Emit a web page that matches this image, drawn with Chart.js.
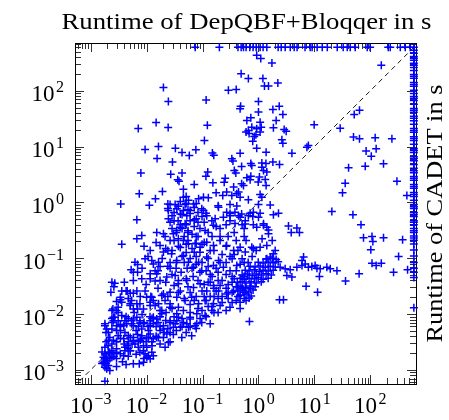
<!DOCTYPE html>
<html>
<head>
<meta charset="utf-8">
<script src="https://cdn.jsdelivr.net/npm/chart.js@4.4.1/dist/chart.umd.min.js"></script>
<style>
  html, body { margin: 0; padding: 0; background: #fff; }
  #wrap { width: 449px; height: 420px; }
</style>
</head>
<body>
<div id="wrap"><canvas id="chart" width="449" height="420"></canvas></div>
<script>
// Runtimes in seconds; TIMEOUT marks an instance the solver did not finish.
const TIMEOUT = 600;

const xTitle = 'Runtime of DepQBF+Bloqqer in s';
const yTitle = 'Runtime of CADET in s';

// decade exponents that get a "10^k" label
const tickExponents = [-3, -2, -1, 0, 1, 2];

// axis limits (s)
const X_MIN = 5.25e-4, X_MAX = 655;
const Y_MIN = 5.6e-4,  Y_MAX = 716;

// CADET timed out: DepQBF+Bloqqer runtime
const cadetTimeouts = [0.074,0.20,0.43,0.49,0.54,0.60,0.70,0.80,0.91,1.07,1.21,1.41,2.25,2.55,3.0,3.7,4.35,4.9,
  6.8,8.4,9.1,11.2,13.8,17,25.6,32.7,38.6,43.7,53.7,88,99,209,227,343,421,517,600];

// DepQBF+Bloqqer timed out: CADET runtime
const depqbfTimeouts = [530,470,410,380,350,310,285,260,230,196,181,167,141,130,120,102,89,79,73,67,57,48,44.5,41,
  35,32,29,25,21,19.5,18,15,14,12.9,11,9.2,8.5,7.8,6.6,6.1,5.6,4.8,4.1,3.7,3.4,2.9,2.7,2.5,2.1,1.93,1.8,1.5,1.39,
  1.28,1.09,0.92,0.84,0.78,0.66,0.61,0.56,0.47,0.44,0.40,0.34,0.31,0.29,0.25,0.23,0.21,0.18,0.14,0.11,0.084,0.066,
  0.056,0.045,0.013];

// solved by both: [DepQBF+Bloqqer, CADET]
const slowForCadet = [
  [0.020,114],[0.0245,64],[0.116,68],[0.0071,21],[0.0148,27],[0.0243,22],[0.122,24],[0.0094,8.9],[0.0163,10],
  [0.0154,6.1],[0.0327,9.3],[0.043,7.8],[0.058,6.9],[0.076,8.8],[0.108,12.9],[0.15,7.7],[0.159,7.0],[0.029,5.3],
  [0.0079,3.35],[0.027,3.2],[0.043,3.35],[0.036,2.55],[0.038,2.4],[0.115,2.95],[0.124,3.5],[0.153,2.25],
  [0.0455,1.73],[0.071,2.1],[0.0074,1.43],[0.0192,1.57],[0.0144,1.16],[0.0112,0.89],[0.00345,0.94],[0.0067,0.49],
  [0.024,0.94],[0.051,1.28],[0.069,0.94],[0.104,0.72],[0.115,0.64],[0.175,1.49],[0.23,1.33],[0.19,0.87],
  [0.254,2.72],[0.244,2.3],[0.334,6.05],[0.35,5.5],[0.37,3.74],[0.394,3.35],[0.5,4.4],[0.47,7.6],[0.29,102],
  [0.40,105],[0.49,202],[0.66,165],[0.47,47.7],[0.48,52.5],[0.62,29.4],[0.68,17.2],[0.36,1.88],[0.41,1.43],
  [0.44,1.53],[0.5,2.16],[0.31,0.63],[0.38,0.67],[0.44,0.58],[0.236,0.54],
  [0.93,430],[1.1,376],[1.74,313],[1.2,165],[1.28,121],[1.51,121],[2.22,137],[1.0,64],[1.0,41.5],[1.81,46],
  [2.35,53],[2.73,37.7],[0.73,32.9],[1.07,27.4],[2.07,29.4],[0.76,22.3],[0.93,20.9],[1.12,22.3],[1.07,18.2],
  [0.6,18.2],[0.66,19.5],[1.85,21.8],[2.88,20.3],[3.13,18.9],[0.9,16.3],[0.84,15.2],[0.79,12.5],[2.62,13.3],
  [2.73,11.5],[0.93,9.35],[1.37,7.9],[3.96,7.6],[0.73,5.0],[1.15,5.1],[1.36,5.0],[1.81,5.3],[2.38,4.78],
  [0.76,4.59],[1.15,4.28],[1.23,3.74],[1.41,3.49],[0.62,2.77],[0.71,2.55],[0.73,2.95],[1.04,2.84],[1.32,2.58],
  [1.37,2.01],[0.99,2.31],[0.54,2.01],[1.07,1.39],[1.15,1.24],[0.334,1.33],[0.66,1.12],[0.31,0.92],[0.41,0.86],
  [1.0,0.92],[1.62,0.90],[0.5,0.62],[0.71,0.64],[0.79,0.56],[1.07,0.64],[1.85,0.6],[2.28,0.64]
];

const slowForDepqbf = [
  [157,285],[9.9,24.7],[28.9,21.4],[51.5,37.7],[64,44.5],[7.8,10.5],[7.35,9.7],[50,14.8],[64,13.8],[122,14.4],
  [243,13.8],[127,9.1],[84,8.3],[104,6.7],[172,4.93],[81,4.45],[40.8,4.18],[299,2.4],[35.5,2.21],[31.8,1.49],
  [450,1.33],[20.5,0.69],[48.8,0.6],[68,0.40],
  [0.38,0.42],[0.58,0.41],[0.81,0.40],[0.93,0.36],[1.23,0.39],[3.44,0.38],[4.86,0.35],[1.51,0.32],[3.85,0.29],
  [5.4,0.29],[75.5,0.233],[107,0.245],[172,0.233],[111,0.20],[377,0.214],[102,0.142],[320,0.108],[107,0.081],
  [127,0.074],[157,0.081],[463,0.062],[260,0.056],[63,0.053],[36,0.039],[7.1,0.0315],[11.4,0.0247],[2.38,0.018],
  [2.8,0.018],[0.69,0.0074],[2.44,0.069],[3.0,0.065],[3.69,0.062],[4.86,0.069],[6.0,0.074],[6.85,0.079],
  [7.8,0.069],[9.0,0.071],[10.3,0.074],[11.1,0.066],[12.7,0.065],[12.3,0.047],[16.7,0.069],[19.2,0.065],
  [25.3,0.060],[3.22,0.049],[3.96,0.046],[6.0,0.091],[6.4,0.105],[1.41,0.098],[1.62,0.105]
];

const coreMass = [
  [0.0324,0.92],[0.0455,1.24],[0.0488,0.92],[0.056,1.09],[0.085,1.16],[0.104,1.24],[0.127,1.21],[0.27,1.53],
  [0.47,1.24],[0.0245,0.72],[0.0245,0.51],[0.0347,0.77],[0.040,0.62],[0.0455,0.72],[0.0524,0.58],[0.060,0.47],
  [0.0488,0.415],[0.040,0.36],[0.0347,0.315],[0.097,0.77],[0.119,0.58],[0.147,0.47],[0.157,0.39],[0.168,0.51],
  [0.193,0.82],[0.27,0.67],[0.31,0.58],[0.47,0.54],[0.58,0.47],[0.66,0.58],[0.81,0.67],[1.0,0.54],[1.23,0.415],
  [1.41,0.36],[1.51,0.275],[0.0152,0.29],[0.020,0.275],[0.0082,0.256],[0.0067,0.223],[0.0301,0.275],[0.037,0.223],
  [0.0455,0.208],[0.056,0.182],[0.0737,0.182],[0.0905,0.158],[0.119,0.194],[0.157,0.170],[0.206,0.208],[0.27,0.17],
  [0.36,0.138],[0.47,0.158],[0.58,0.129],[0.81,0.148],[1.07,0.158],[1.41,0.17],[0.0116,0.138],[0.0174,0.17],
  [0.020,0.129],[0.0124,0.091],[0.0094,0.0975],[0.0062,0.085],[0.028,0.120],[0.0347,0.091],[0.0455,0.112],
  [0.056,0.085],[0.069,0.069],[0.085,0.085],[0.097,0.060],[0.119,0.105],[0.157,0.074],[0.193,0.091],[0.236,0.069],
  [0.31,0.060],[0.41,0.074],[0.0058,0.056],[0.0082,0.043],[0.0116,0.053],[0.0174,0.040],[0.023,0.046],
  [0.0324,0.049],[0.037,0.035],[0.0524,0.040],[0.069,0.030],[0.0905,0.035],[0.119,0.026],[0.157,0.0325],
  [0.193,0.026],[0.27,0.023],[0.36,0.026],[0.47,0.0215],[0.0067,0.026],[0.0124,0.020],[0.0187,0.0215],
  [0.0263,0.0247],[0.0347,0.020],[0.0488,0.0175],[0.064,0.020],[0.085,0.0153],[0.111,0.0175],[0.157,0.0153],
  [0.206,0.0143],[0.31,0.0133],[0.47,0.0163],[0.0067,0.0153],[0.0088,0.0124],[0.0142,0.0143],[0.0187,0.0116],
  [0.0263,0.0133],[0.0347,0.0101],[0.0455,0.0116],[0.060,0.0088],[0.079,0.0101],[0.111,0.0094],[0.147,0.0116],
  [0.0058,0.0082],[0.0088,0.0067],[0.0108,0.0051],[0.0132,0.0067],[0.020,0.0062],[0.0263,0.0071],[0.040,0.0058],
  [0.0524,0.0067],[0.0737,0.0062],[0.097,0.0071],[0.137,0.0067],[0.0108,0.0038],[0.0152,0.0038],[0.020,0.0038],
  [0.0301,0.0043],[0.0426,0.0038],
  [0.0285,0.58],[0.0366,0.47],[0.043,0.34],[0.055,0.29],[0.071,0.37],[0.083,0.245],[0.031,0.208],[0.040,0.156],
  [0.051,0.127],[0.065,0.150],[0.077,0.108],[0.0263,0.084],[0.0337,0.066],[0.0414,0.056],[0.053,0.066],
  [0.068,0.047],[0.083,0.040],[0.031,0.0325],[0.040,0.026],[0.060,0.0243],[0.077,0.0207],[0.098,0.026],
  [0.126,0.037],[0.148,0.047],[0.19,0.056],[0.224,0.040],[0.287,0.0338],[0.368,0.043],[0.116,0.0175],
  [0.161,0.0207],[0.224,0.0162],[0.287,0.019],[0.40,0.0175],[0.047,0.245],[0.060,0.72],[0.077,0.51],
  [0.0174,0.0090],[0.0223,0.0107],[0.0285,0.0126],[0.047,0.019],[0.060,0.0148],[0.098,0.0116],[0.126,0.0137],
  [0.264,0.029],[0.338,0.0243],[0.43,0.031],[0.264,0.0116],[0.19,0.0107],[0.0905,0.0083],[0.0148,0.0060],
  [0.175,0.026],[0.137,0.0207],[0.555,0.0243],[0.206,0.0325],
  [0.111,0.315],[0.148,0.245],[0.206,0.34],[0.287,0.245],[0.40,0.208],[0.555,0.245],[0.137,0.138],[0.224,0.117],
  [0.338,0.098],[0.51,0.098],[0.655,0.084],[0.77,0.108],[0.91,0.138],[0.264,0.40],[0.555,0.34],[1.76,0.208],
  [1.16,0.223],[1.99,0.138],[0.76,0.158],[1.85,0.12]
];

// further instances inside the crowded 0.01 s – 1 s block
const midRange = [
  [0.0263,0.92],[0.037,0.85],[0.051,0.96],[0.071,0.81],[0.031,0.66],[0.043,0.61],[0.060,0.63],[0.083,0.66],
  [0.0263,0.44],[0.051,0.40],[0.071,0.49],[0.034,0.29],[0.065,0.27],[0.09,0.34],[0.0263,0.208],[0.055,0.208],
  [0.077,0.185],[0.0285,0.138],[0.043,0.108],[0.060,0.099],[0.09,0.128],[0.034,0.084],[0.077,0.078],
  [0.0285,0.051],[0.051,0.043],[0.09,0.056],[0.037,0.0243],[0.055,0.031],[0.071,0.0175],[0.024,0.0207],
  [0.107,0.44],[0.175,0.37],[0.31,0.47],[0.51,0.40],[0.126,0.29],[0.206,0.245],[0.368,0.29],[0.60,0.208],
  [0.107,0.192],[0.16,0.138],[0.264,0.164],[0.43,0.138],[0.126,0.099],[0.206,0.084],[0.31,0.108],[0.47,0.078],
  [0.116,0.060],[0.175,0.066],[0.264,0.051],[0.40,0.060],[0.137,0.037],[0.338,0.037],[0.51,0.029],[0.107,0.0207],
  [0.19,0.019],[0.338,0.0162],[0.47,0.0126],[0.148,0.0137],
  [0.009,0.164],[0.0148,0.192],[0.022,0.15],[0.0106,0.108],[0.019,0.099],[0.0083,0.066],[0.016,0.060],
  [0.024,0.072],[0.0098,0.034],[0.016,0.029],[0.022,0.037],[0.0077,0.0207],
  [0.0026,0.031],[0.004,0.037],[0.0047,0.019],[0.0031,0.0107],[0.0043,0.009],[0.006,0.0107],[0.0083,0.0098],
  [0.0115,0.009],[0.016,0.0071],[0.022,0.0077],[0.031,0.009],[0.043,0.0083],[0.060,0.0107],[0.083,0.0126],
  [0.116,0.009],[0.16,0.0107],[0.0106,0.006],[0.0205,0.0047],[0.034,0.0051],[0.051,0.0047],[0.077,0.0055],
  [0.0034,0.0037],[0.0055,0.0029],[0.0077,0.0034],[0.0125,0.0027],[0.0019,0.0032],[0.0026,0.00175],
  [0.0037,0.0014],[0.0047,0.00175],[0.0065,0.0019],[0.009,0.0016],[0.0016,0.0013],[0.0022,0.00098],[0.0029,0.00115],
  [0.024,0.78],[0.040,1.04],[0.055,0.75],[0.077,0.96],[0.098,0.56],[0.0285,0.34],[0.040,0.40],[0.055,0.31],
  [0.077,0.245],[0.024,0.138],[0.037,0.164],[0.051,0.178],[0.071,0.128],[0.098,0.178],[0.031,0.47],[0.083,0.44],
  [0.047,0.084],[0.065,0.066],[0.0263,0.066],[0.037,0.040],
  [0.098,0.084],[0.137,0.051],[0.19,0.040],[0.264,0.084],[0.368,0.117],[0.555,0.084],[0.107,0.034],[0.16,0.029],
  [0.287,0.0243],[0.43,0.0207],[0.60,0.0175],[0.224,0.0207],[0.126,0.071],[0.338,0.047],[0.555,0.047],[0.71,0.029],
  [0.0024,0.0083],[0.0034,0.0065],[0.0047,0.0083],[0.0065,0.0051],[0.009,0.0071],[0.0125,0.0083],[0.0174,0.006],
  [0.024,0.0055],[0.043,0.006],[0.004,0.0029],[0.0051,0.0022],[0.0071,0.0032],[0.0098,0.0032],[0.0029,0.0016],
  [0.0043,0.00125],[0.00205,0.0027],[0.0016,0.0021],[0.0148,0.004],[0.0263,0.0032],[0.060,0.006]
];

const smallInstances = [
  [0.0036,0.178],[0.0214,0.245],[0.0069,0.077],[0.0053,0.062],[0.0069,0.056],[0.0132,0.079],[0.0163,0.085],
  [0.0174,0.071],[0.0142,0.060],[0.0152,0.053],[0.0116,0.043],[0.0142,0.039],[0.0024,0.0372],[0.0027,0.0357],
  [0.0058,0.040],[0.0045,0.026],[0.0023,0.0247],[0.0034,0.018],[0.0029,0.0168],[0.0025,0.0124],[0.0024,0.0116],
  [0.0031,0.0133],[0.0054,0.0175],[0.0051,0.0143],[0.0069,0.0124],[0.0076,0.0153],[0.0094,0.026],[0.010,0.020],
  [0.0116,0.0163],[0.0132,0.0175],[0.020,0.023],[0.0214,0.0175],[0.0263,0.0153],[0.00255,0.0088],[0.0024,0.0071],
  [0.0031,0.0076],[0.0036,0.0094],[0.0034,0.0060],[0.0029,0.0051],[0.0018,0.0062],[0.00194,0.0054],[0.00188,0.0047],
  [0.0044,0.0067],[0.0054,0.0076],[0.0058,0.0062],[0.0071,0.0060],[0.0076,0.0069],[0.0116,0.0062],[0.0041,0.0047],
  [0.0047,0.0041],[0.0058,0.0038],[0.0069,0.0043],[0.0082,0.0041],[0.0101,0.0038],[0.0116,0.0044],[0.00207,0.0034],
  [0.0024,0.0029],[0.0018,0.00255],[0.0022,0.00207],[0.00194,0.00169],[0.0018,0.00137],[0.00207,0.0012],
  [0.0029,0.0024],[0.0034,0.00194],[0.0041,0.00255],[0.0051,0.0022],[0.0045,0.0027],[0.0062,0.0029],
  [0.0071,0.00255],[0.0076,0.00207],[0.0088,0.0022],[0.0101,0.00255],[0.0108,0.0018],[0.0058,0.00129],
  [0.0074,0.00129],[0.0088,0.00137],[0.0101,0.00169],[0.0018,0.00063],[0.0174,0.0029],[0.0214,0.00255],
  [0.0245,0.0031],[0.023,0.0044],[0.0174,0.0051],[0.064,0.0041],[0.0263,0.0076],[0.0324,0.0067],[0.037,0.0088],
  [0.0455,0.0071],[0.056,0.0058],[0.060,0.0082],[0.079,0.0067],
  [0.0036,0.0258],[0.0043,0.0258],[0.0051,0.0237],[0.0058,0.0237],[0.0034,0.020],[0.0036,0.0163],[0.0029,0.0116],
  [0.0051,0.0153],[0.0119,0.0207],[0.0058,0.0124],[0.0116,0.0143],[0.0163,0.0153],[0.0174,0.0116],[0.0018,0.0067],
  [0.00207,0.0047],[0.0024,0.0054],[0.00255,0.0076],[0.0029,0.0062],[0.0034,0.0051],[0.0039,0.0062],[0.0041,0.0076],
  [0.0027,0.0088],[0.0054,0.0067],[0.0076,0.0076],[0.0067,0.0088],[0.0082,0.0054],[0.0116,0.0076],[0.0132,0.0088],
  [0.0152,0.0082],[0.0187,0.0101],[0.0022,0.0038],[0.00255,0.0034],[0.0029,0.0032],[0.0031,0.0041],[0.0039,0.0036],
  [0.0047,0.0032],[0.0051,0.0038],[0.0058,0.0034],[0.0082,0.0036],[0.0088,0.0027],[0.0124,0.0032],[0.0132,0.0036],
  [0.0163,0.0038],[0.020,0.0054],[0.0263,0.0047],[0.0301,0.0058],[0.0347,0.0076],[0.037,0.0133],[0.0017,0.00169],
  [0.0018,0.00194],[0.00207,0.00207],[0.0024,0.0022],[0.0018,0.00158],[0.002,0.00146],[0.0022,0.00158],
  [0.0017,0.00137],[0.00188,0.00129],[0.0018,0.00112],[0.00194,0.00105],[0.0024,0.00169],[0.00255,0.00194],
  [0.0029,0.00207],[0.0041,0.0022],[0.0047,0.0024],[0.0039,0.0018],[0.0116,0.00158],[0.0132,0.0018],
  [0.0094,0.00194],[0.0124,0.00207]
];

// dense group around 1 s / 0.05 s
const cadetPlateau = [
  [1.37,0.097],[1.76,0.1],[2.07,0.095],
  [0.99,0.085],[1.21,0.082],[1.49,0.086],[1.83,0.083],[2.25,0.087],
  [0.71,0.072],[0.87,0.07],[1.07,0.073],[1.32,0.069],[1.62,0.072],[1.99,0.07],
  [0.58,0.061],[0.68,0.059],[0.84,0.062],[1.03,0.058],[1.21,0.061],[1.49,0.059],[1.83,0.061],
  [0.51,0.05],[0.63,0.052],[0.77,0.049],[0.91,0.052],[1.12,0.05],[1.37,0.053],[1.69,0.05],
  [0.47,0.044],[0.555,0.042],[0.68,0.044],[0.84,0.043],[0.99,0.045],[1.21,0.042],[1.49,0.044],
  [0.42,0.037],[0.51,0.038],[0.6,0.036],[0.74,0.038],[0.91,0.036],[1.12,0.038],
  [0.40,0.031],[0.47,0.032],[0.58,0.030],[0.71,0.032],[0.87,0.031],
  [0.43,0.026],[0.53,0.027],[0.655,0.025],[0.80,0.027],
  [0.47,0.022],[0.60,0.023],[0.74,0.021],
  [0.555,0.019],[0.68,0.0195]
];

const toPoint = ([d, c]) => ({ x: d, y: c });
const instances = [
  ...slowForCadet, ...slowForDepqbf, ...coreMass, ...midRange, ...smallInstances, ...cadetPlateau
].map(toPoint)
  .concat(cadetTimeouts.map(d => ({ x: d, y: TIMEOUT })))
  .concat(depqbfTimeouts.map(c => ({ x: TIMEOUT, y: c })));

const SERIF = '"Liberation Serif", "Times New Roman", serif';
const LABEL_FONT = '23px ' + SERIF;
const SUP_FONT = '16px ' + SERIF;
const TITLE_FONT = '24px ' + SERIF;

// text stretched horizontally to a given width
function drawFitted(ctx, text, cx, baseline, width, font) {
  ctx.save();
  ctx.font = font;
  const w = ctx.measureText(text).width;
  ctx.translate(cx, baseline);
  ctx.scale(width / w, 1);
  ctx.textAlign = 'center';
  ctx.textBaseline = 'alphabetic';
  ctx.fillText(text, 0, 0);
  ctx.restore();
}

function drawPower(ctx, exp, x, baseline, align) {
  const base = '10';
  const sup = exp < 0 ? '\u2212' + (-exp) : String(exp);
  ctx.font = LABEL_FONT;
  const wb = ctx.measureText(base).width;
  ctx.font = SUP_FONT;
  const ws = ctx.measureText(sup).width;
  const gap = 1.5;
  const total = wb + gap + ws;
  const left = align === 'center' ? x - total / 2 : x - total;
  ctx.textAlign = 'left';
  ctx.textBaseline = 'alphabetic';
  ctx.font = LABEL_FONT;
  ctx.fillText(base, left, baseline);
  ctx.font = SUP_FONT;
  ctx.fillText(sup, left + wb + gap, baseline - 9);
}

const frame = {
  id: 'frame',
  beforeDatasetsDraw(chart) {
    const { ctx, chartArea: a, scales: { x, y } } = chart;
    ctx.save();
    ctx.strokeStyle = '#1a1a1a';
    ctx.lineWidth = 0.9;
    const MAJOR = 9, MINOR = 6;
    const tickValues = [];
    for (let k = -4; k <= 3; k++) {
      for (let m = 1; m <= 9; m++) tickValues.push({ v: m * Math.pow(10, k), major: m === 1 });
    }
    ctx.beginPath();
    tickValues.forEach(t => {
      const len = t.major ? MAJOR : MINOR;
      if (t.v >= X_MIN && t.v <= X_MAX) {
        const px = Math.round(x.getPixelForValue(t.v)) + 0.5;
        ctx.moveTo(px, a.bottom); ctx.lineTo(px, a.bottom - len);
        ctx.moveTo(px, a.top); ctx.lineTo(px, a.top + len);
      }
      if (t.v >= Y_MIN && t.v <= Y_MAX) {
        const py = Math.round(y.getPixelForValue(t.v)) + 0.5;
        ctx.moveTo(a.left, py); ctx.lineTo(a.left + len, py);
        ctx.moveTo(a.right, py); ctx.lineTo(a.right - len, py);
      }
    });
    ctx.stroke();
    ctx.lineWidth = 1;
    ctx.strokeStyle = '#000';
    ctx.strokeRect(Math.round(a.left) + 0.5, Math.round(a.top) + 0.5,
      Math.round(a.right - a.left), Math.round(a.bottom - a.top));
    ctx.restore();
  },
  afterDraw(chart) {
    const { ctx, chartArea: a, scales: { x, y } } = chart;
    ctx.save();
    ctx.fillStyle = '#000';
    tickExponents.forEach(e => {
      const v = Math.pow(10, e);
      drawPower(ctx, e, x.getPixelForValue(v), a.bottom + 29, 'center');
      drawPower(ctx, e, a.left - 11, y.getPixelForValue(v) + 10.5, 'right');
    });
    drawFitted(ctx, xTitle, (a.left + a.right) / 2 + 1, 28.5, 370, TITLE_FONT);
    ctx.save();
    ctx.translate(442, (a.top + a.bottom) / 2);
    ctx.rotate(-Math.PI / 2);
    drawFitted(ctx, yTitle, 0, 0, 258, TITLE_FONT);
    ctx.restore();
    ctx.restore();
  }
};

new Chart(document.getElementById('chart'), {
  type: 'scatter',
  data: {
    datasets: [
      {
        label: 'y = x',
        data: [{ x: 1e-4, y: 1e-4 }, { x: 1e3, y: 1e3 }],
        showLine: true,
        borderColor: '#000',
        borderWidth: 0.9,
        borderDash: [5, 4],
        pointRadius: 0,
        order: 2
      },
      {
        label: 'instances',
        data: instances,
        pointStyle: 'cross',
        pointRadius: 4,
        borderColor: 'rgb(0,0,255)',
        backgroundColor: 'rgb(0,0,255)',
        pointBorderWidth: 1.5,
        borderWidth: 1.5,
        clip: false,
        order: 1
      }
    ]
  },
  options: {
    responsive: false,
    animation: false,
    devicePixelRatio: 1,
    events: [],
    layout: { padding: { left: 75, right: 33, top: 43, bottom: 36 } },
    plugins: { legend: { display: false }, tooltip: { enabled: false } },
    scales: {
      x: { type: 'logarithmic', min: X_MIN, max: X_MAX, display: false },
      y: { type: 'logarithmic', min: Y_MIN, max: Y_MAX, display: false }
    }
  },
  plugins: [frame]
});
</script>
</body>
</html>
